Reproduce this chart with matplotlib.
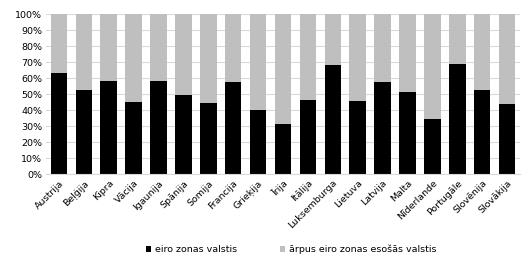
import matplotlib.pyplot as plt
import numpy as np

# data
countries = ["Austrija", "Beļģija", "Kipra", "Vācija", "Igaunija", "Spānija",
             "Somija", "Francija", "Grieķija", "Īrija", "Itālija", "Luksemburga",
             "Lietuva", "Latvija", "Malta", "Nīderlande", "Portugāle",
             "Slovēnija", "Slovākija"]
euro = [63.3, 52.7, 58.3, 45.2, 58.3, 49.6, 44.6, 57.7, 40.2, 31.4,
        46.4, 68.3, 45.8, 57.7, 51.4, 34.6, 68.9, 52.7, 43.9]
non_euro = [100 - v for v in euro]
labels = ["eiro zonas valstis", "ārpus eiro zonas esošās valstis"]

fig = plt.figure(figsize=(5.28, 2.75), dpi=100)
ax = fig.add_axes([0.088, 0.366, 0.896, 0.582])

x = np.arange(len(countries))
ax.bar(x, euro, width=0.66, color="black", label=labels[0], zorder=2)
ax.bar(x, non_euro, width=0.66, bottom=euro, color="#bfbfbf", label=labels[1], zorder=2)

ax.set_xlim(-0.5, len(countries) - 0.5)
ax.set_ylim(0, 100)
ax.set_yticks(np.arange(0, 101, 10))
ax.set_yticklabels([f"{v}%" for v in range(0, 101, 10)], fontsize=6.8)
ax.set_xticks(x)
ax.set_xticklabels(countries, rotation=45, ha="right", rotation_mode="anchor", fontsize=6.8)
ax.tick_params(axis="both", length=0, pad=3)
ax.yaxis.grid(True, color="#d9d9d9", linewidth=0.8, zorder=0)
for s in ["top", "right", "left"]:
    ax.spines[s].set_visible(False)
ax.spines["bottom"].set_color("#d9d9d9")

ax.legend(loc="center", bbox_to_anchor=(0.517, -0.47), ncol=2, frameon=False,
          fontsize=6.8, handlelength=0.6, handleheight=0.6, handletextpad=0.4,
          columnspacing=4.5)

plt.savefig("out.png", dpi=100)
